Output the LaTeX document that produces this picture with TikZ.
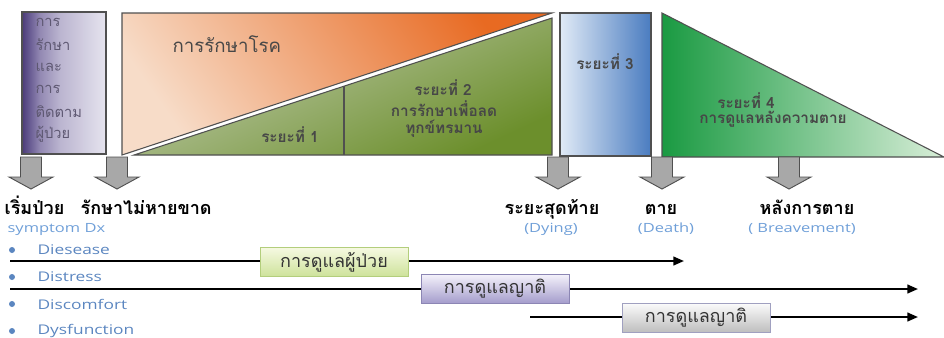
\documentclass[tikz,border=0pt]{standalone}
\usepackage{fontspec}
\setmainfont{Open Sans}
\newfontfamily\thai[Script=Thai]{Loma}
\newfontfamily\latin[FakeStretch=1.3]{Open Sans}
\usetikzlibrary{arrows.meta}
\definecolor{pdark}{HTML}{4B3B78}
\definecolor{pa}{HTML}{6A5D94}
\definecolor{pb}{HTML}{9389B3}
\definecolor{pc}{HTML}{BBB5D0}
\definecolor{plight}{HTML}{E6E4EF}
\definecolor{ptext}{HTML}{5E5872}
\definecolor{orlight}{HTML}{F7DCC8}
\definecolor{ordark}{HTML}{E86A22}
\definecolor{gnlight}{HTML}{C3CDB2}
\definecolor{gndark}{HTML}{6C8F2C}
\definecolor{bllight}{HTML}{E0EAF6}
\definecolor{blmid}{HTML}{BCD0EA}
\definecolor{bldark}{HTML}{4A7CC0}
\definecolor{g4dark}{HTML}{1A9A42}
\definecolor{g4light}{HTML}{D8EED8}
\definecolor{edge}{HTML}{505050}
\definecolor{subblue}{HTML}{6F9FD8}
\definecolor{bullblue}{HTML}{5B86C0}
\definecolor{arrgray}{HTML}{A8A8A8}
\definecolor{b1top}{HTML}{F6F9E2}
\definecolor{b1bot}{HTML}{CDE29A}
\definecolor{b1edge}{HTML}{B3CE7C}
\definecolor{b2top}{HTML}{F4F2FB}
\definecolor{b2bot}{HTML}{A39BCB}
\definecolor{b2edge}{HTML}{8C86B4}
\definecolor{b3top}{HTML}{FBFBFB}
\definecolor{b3bot}{HTML}{BDBDBD}
\definecolor{b3edge}{HTML}{A0A0C0}
\pgfdeclarehorizontalshading{purshade}{100bp}{color(0bp)=(pdark); color(25bp)=(pdark); color(29.8bp)=(pa); color(35.7bp)=(pb); color(47.6bp)=(pc); color(75bp)=(plight); color(100bp)=(plight)}
\tikzset{
  shapeedge/.style={draw=edge, line width=0.8pt},
  txt/.style={inner sep=1pt},
  purtext/.style={txt, anchor=west, text=ptext, font=\thai\fontsize{11}{12}\selectfont},
  stagetext/.style={txt, text=black!72, font=\thai\bfseries\fontsize{11.5}{13}\selectfont},
  biglabel/.style={txt, text height=9pt, text depth=1.5pt, text=black, font=\thai\bfseries\fontsize{13.5}{15}\selectfont},
  sublabel/.style={txt, text height=6.5pt, text depth=1.5pt, text=subblue, font=\latin\fontsize{9.5}{11}\selectfont},
  bullettext/.style={txt, anchor=west, text=bullblue, font=\latin\fontsize{10}{11}\selectfont},
  bulletdot/.style={fill=bullblue, draw=none, circle, inner sep=0pt, minimum size=4.5pt},
  timeline/.style={line width=1.6pt, -{Triangle[length=8pt,width=6.5pt]}},
  carebox/.style={line width=0.7pt, minimum width=111pt, minimum height=22pt, inner sep=0pt,
    font=\thai\fontsize{13.5}{15}\selectfont, text=black!80},
  blockarrow/.style={fill=arrgray, draw=edge, line width=0.7pt},
}
\begin{document}
\begin{tikzpicture}[x=0.75pt,y=-0.75pt]
\useasboundingbox (0,0) rectangle (944,337);

% purple box
\path[shapeedge, shading=purshade] (22,12) rectangle (106,154);
\node[purtext] (p1) at (34,22) {การ};
\node[purtext] (p2) at (34,45) {รักษา};
\node[purtext] (p3) at (34,67) {และ};
\node[purtext] (p4) at (34,89) {การ};
\node[purtext] (p5) at (34,112) {ติดตาม};
\node[purtext] (p6) at (34,134) {ผู้ป่วย};

% orange triangle
\path[shapeedge, bottom color=orlight, top color=ordark, shading angle=-55] (122,155) -- (122,13) -- (552,13) -- cycle;
\node[txt, anchor=west, text=black!72, font=\thai\fontsize{14}{16}\selectfont] (treat) at (171,44) {การรักษาโรค};

% green triangle
\path[shapeedge, top color=gnlight, bottom color=gndark, shading angle=25] (134,155) -- (552,18) -- (552,155) -- cycle;
\coordinate (divtop) at (344,86);
\coordinate (divbot) at (344,155);
\draw[edge, line width=0.8pt] (divtop) -- (divbot);
\node[stagetext] (s1) at (290,135) {ระยะที่ 1};
\node[stagetext] (s2a) at (443,88) {ระยะที่ 2};
\node[stagetext] (s2b) at (444,109) {การรักษาเพื่อลด};
\node[stagetext] (s2c) at (444,129) {ทุกข์ทรมาน};

% blue rect
\path[shapeedge, left color=bllight, middle color=blmid, right color=bldark] (560,13) rectangle (651,156);
\node[stagetext] (s3) at (605,62) {ระยะที่ 3};

% right green triangle
\path[shapeedge, left color=g4dark, right color=g4light] (662,13) -- (662,157) -- (944,157) -- cycle;
\node[stagetext] (s4a) at (746,101) {ระยะที่ 4};
\node[stagetext] (s4b) at (773,119) {การดูแลหลังความตาย};

% block arrows
\foreach \cx in {31,117,558,662,789}{
  \path[blockarrow] (\cx-10.5,157) -- (\cx+10.5,157) -- (\cx+10.5,177) -- (\cx+22,177)
     -- (\cx,189) -- (\cx-22,177) -- (\cx-10.5,177) -- cycle;
}

% labels
\node[biglabel, anchor=west] (l1) at (3,209) {เริ่มป่วย};
\node[biglabel, anchor=west] (l2) at (79,209) {รักษาไม่หายขาด};
\node[biglabel] (l3) at (552,209) {ระยะสุดท้าย};
\node[biglabel] (l4) at (661,209) {ตาย};
\node[biglabel] (l5) at (807,209) {หลังการตาย};
\node[sublabel, anchor=west] (m1) at (6,229) {symptom Dx};
\node[sublabel] (m3) at (551,229) {(Dying)};
\node[sublabel] (m4) at (666,229) {(Death)};
\node[sublabel] (m5) at (802,229) {( Breavement)};

% bullets
\foreach \yy/\tt/\nm in {250/Diesease/b1,277/Distress/b2,304/Discomfort/b3,331/Dysfunction/b4}{
  \node[bulletdot] (\nm dot) at (12,\yy) {};
  \node[bullettext] (\nm) at (36,\yy) {\tt};
}

% timelines
\coordinate (t1s) at (10,261);
\coordinate (t1e) at (684,261);
\coordinate (t2s) at (10,289);
\coordinate (t2e) at (918,289);
\coordinate (t3s) at (530,317);
\coordinate (t3e) at (918,317);
\draw[timeline] (t1s) -- (t1e);
\draw[timeline] (t2s) -- (t2e);
\draw[timeline] (t3s) -- (t3e);

\node[carebox, draw=b1edge, top color=b1top, bottom color=b1bot] (c1) at (334,262) {การดูแลผู้ป่วย};
\node[carebox, draw=b2edge, top color=b2top, bottom color=b2bot] (c2) at (495,289) {การดูแลญาติ};
\node[carebox, draw=b3edge, top color=b3top, bottom color=b3bot] (c3) at (696,318) {การดูแลญาติ};
\end{tikzpicture}
\end{document}
